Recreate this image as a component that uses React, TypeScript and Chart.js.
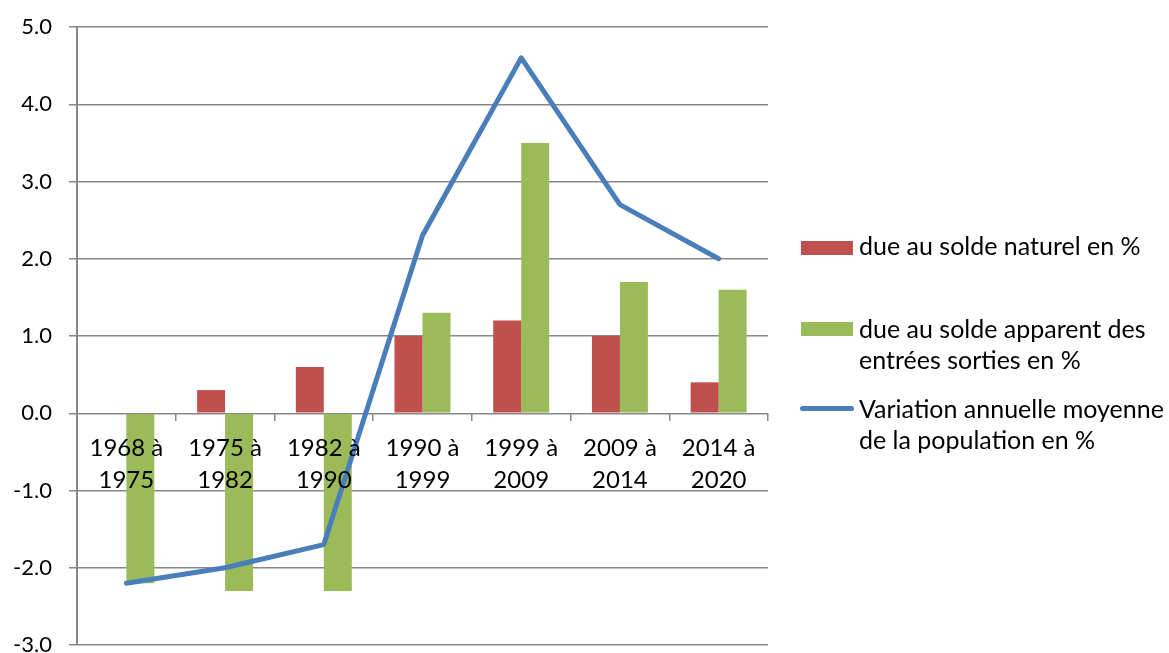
import React, { useEffect, useRef } from "react";
import { Chart, registerables } from "chart.js";

Chart.register(...registerables);

const categories: string[][] = [
  ["1968 à", "1975"],
  ["1975 à", "1982"],
  ["1982 à", "1990"],
  ["1990 à", "1999"],
  ["1999 à", "2009"],
  ["2009 à", "2014"],
  ["2014 à", "2020"],
];

const soldeNaturel = [0, 0.3, 0.6, 1.0, 1.2, 1.0, 0.4];
const soldeApparent = [-2.2, -2.3, -2.3, 1.3, 3.5, 1.7, 1.6];
const variationAnnuelle = [-2.2, -2.0, -1.7, 2.3, 4.6, 2.7, 2.0];

const seriesLabels = [
  "due au solde naturel en %",
  "due au solde apparent des entrées sorties en %",
  "Variation annuelle moyenne de la population en %",
];
const legendLines: string[][] = [
  ["due au solde naturel en %"],
  ["due au solde apparent des", "entrées sorties en %"],
  ["Variation annuelle moyenne", "de la population en %"],
];

const yMin = -3;
const yMax = 5;
const yStep = 1;

const RED = "#C0504D";
const GREEN = "#9BBB59";
const BLUE = "#4A7EBB";
const GRID = "#878787";
const FONT = "Lato, 'Open Sans', sans-serif";

export default function App() {
  const canvasRef = useRef<HTMLCanvasElement | null>(null);

  useEffect(() => {
    if (!canvasRef.current) return;
    const chart = new Chart(canvasRef.current, {
      type: "bar",
      data: {
        labels: categories,
        datasets: [
          {
            type: "line",
            label: seriesLabels[2],
            data: variationAnnuelle,
            borderColor: BLUE,
            backgroundColor: BLUE,
            borderWidth: 5,
            pointRadius: 0,
            tension: 0,
            borderCapStyle: "round",
            borderJoinStyle: "round",
            order: 0,
          },
          {
            type: "bar",
            label: seriesLabels[0],
            data: soldeNaturel,
            backgroundColor: RED,
            barPercentage: 1,
            categoryPercentage: 0.567,
            order: 1,
          },
          {
            type: "bar",
            label: seriesLabels[1],
            data: soldeApparent,
            backgroundColor: GREEN,
            barPercentage: 1,
            categoryPercentage: 0.567,
            order: 1,
          },
        ],
      },
      options: {
        responsive: false,
        animation: false,
        layout: { padding: { left: 0, top: 27, right: 401, bottom: 8 } },
        plugins: {
          legend: { display: false },
          tooltip: { enabled: false },
        },
        scales: {
          x: {
            position: { y: 0 } as any,
            offset: true,
            grid: {
              display: true,
              offset: true,
              drawOnChartArea: false,
              drawTicks: true,
              tickLength: 8,
              color: GRID,
              lineWidth: 1.5,
            },
            border: { display: false },
            ticks: {
              z: 1,
              color: "#000",
              padding: 11,
              maxRotation: 0,
              autoSkip: false,
              font: { family: FONT, size: 24, lineHeight: 32 / 24 },
            },
            afterFit: (s: any) => {
              s.height = 0;
              s.paddingLeft = 0;
              s.paddingRight = 0;
            },
          },
          y: {
            min: yMin,
            max: yMax,
            grid: {
              color: GRID,
              lineWidth: 1.5,
              drawTicks: true,
              tickLength: 8,
            },
            border: { display: true, color: GRID, width: 2 },
            ticks: {
              stepSize: yStep,
              color: "#000",
              padding: 17,
              font: { family: FONT, size: 22 },
              callback: (v: any) => Number(v).toFixed(1),
            },
            afterFit: (s: any) => {
              s.width = 77;
              s.paddingTop = 0;
              s.paddingBottom = 0;
            },
          },
        },
      },
    });
    return () => chart.destroy();
  }, []);

  const textStyle: React.CSSProperties = {
    position: "absolute",
    left: 859,
    fontFamily: FONT,
    fontSize: 25,
    lineHeight: "31px",
    color: "#000",
    whiteSpace: "nowrap",
  };

  return (
    <div
      style={{
        position: "fixed",
        left: 0,
        top: 0,
        width: 1169,
        height: 653,
        background: "#fff",
        overflow: "hidden",
      }}
    >
      <canvas ref={canvasRef} width={1169} height={653} />
      <div style={{ position: "absolute", left: 801, top: 241, width: 52, height: 14, background: RED }} />
      <div style={{ ...textStyle, top: 230 }}>
        {legendLines[0].map((l, i) => (
          <div key={i}>{l}</div>
        ))}
      </div>
      <div style={{ position: "absolute", left: 801, top: 322, width: 52, height: 14, background: GREEN }} />
      <div style={{ ...textStyle, top: 313 }}>
        {legendLines[1].map((l, i) => (
          <div key={i}>{l}</div>
        ))}
      </div>
      <div
        style={{
          position: "absolute",
          left: 800,
          top: 406,
          width: 54,
          height: 5,
          borderRadius: 3,
          background: BLUE,
        }}
      />
      <div style={{ ...textStyle, top: 393 }}>
        {legendLines[2].map((l, i) => (
          <div key={i}>{l}</div>
        ))}
      </div>
    </div>
  );
}
